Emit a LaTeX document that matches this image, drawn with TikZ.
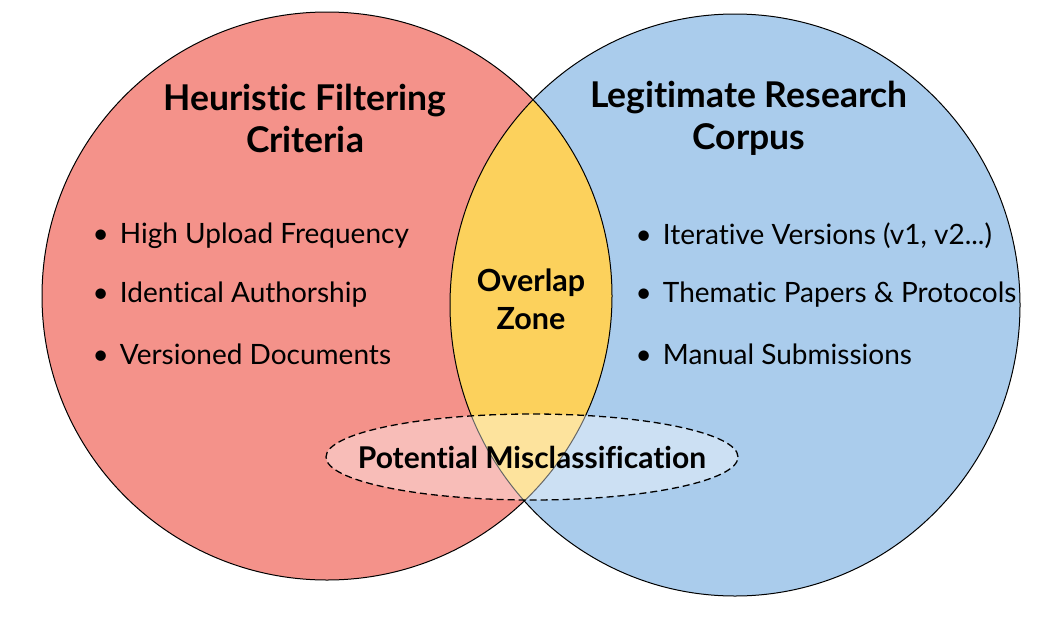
\documentclass[tikz,border=0pt]{standalone}
\usepackage{fontspec}
\setmainfont{Lato}[Ligatures=NoCommon]
\usetikzlibrary{positioning}
\usetikzlibrary{shapes}

\definecolor{heurred}{RGB}{244,146,138}
\definecolor{corpusblue}{RGB}{170,204,236}
\definecolor{overlapyellow}{RGB}{252,209,92}

\begin{document}
\begin{tikzpicture}[x=1pt,y=-1pt]
  \tikzset{title/.style = {align=center, font=\fontsize{35.5}{42}\selectfont\bfseries}}
  \tikzset{item/.style = {anchor=west, font=\fontsize{28}{30}\selectfont}}
  \tikzset{rim/.style = {draw=black, line width=1pt}}

  \useasboundingbox[fill=white] (0,0) rectangle (1052,616);

  %%%%%%%%%%%% the two sets

  \fill[heurred] (327,296) ellipse [x radius=285pt, y radius=284pt];
  \fill[corpusblue] (735,305) ellipse [x radius=285pt, y radius=291pt];
  \begin{scope}
    \clip (327,296) ellipse [x radius=285pt, y radius=284pt];
    \fill[overlapyellow] (735,305) ellipse [x radius=285pt, y radius=291pt];
  \end{scope}
  \draw[rim] (327,296) ellipse [x radius=285pt, y radius=284pt];
  \draw[rim] (735,305) ellipse [x radius=285pt, y radius=291pt];

  %%%%%%%%%%%% titles

  \node[title] (heur) at (305,118) {Heuristic Filtering\\Criteria};
  \node[title] (corpus) at (749,118) {Legitimate Research\\Corpus};

  %%%%%%%%%%%% criteria

  \node[item] (upload) at (89,236) {•\hspace{0.4em}High Upload Frequency};
  \node[item] (author) at (89,295) {•\hspace{0.4em}Identical Authorship};
  \node[item] (versioned) at (89,354) {•\hspace{0.4em}Versioned Documents};

  %%%%%%%%%%%% corpus

  \node[item] (iterative) at (632,236) {•\hspace{0.4em}Iterative Versions (v1, v2...)};
  \node[item] (thematic) at (632,295) {•\hspace{0.4em}Thematic Papers \& Protocols};
  \node[item] (manual) at (632,354) {•\hspace{0.4em}Manual Submissions};

  %%%%%%%%%%%% overlap

  \node[align=center, font=\fontsize{30.5}{38}\selectfont\bfseries] (zone) at (531,299)
  {Overlap\\Zone};

  \node[ellipse, draw, dash pattern=on 7pt off 4pt, line width=1.3pt, fill=white,
  fill opacity=0.4, minimum width=412pt, minimum height=86pt,
  inner sep=0pt] (ring) at (532,457) {};
  \node[font=\fontsize{30}{32}\selectfont\bfseries] (misclass) at (ring.center)
  {Potential Misclassification};

\end{tikzpicture}
\end{document}
